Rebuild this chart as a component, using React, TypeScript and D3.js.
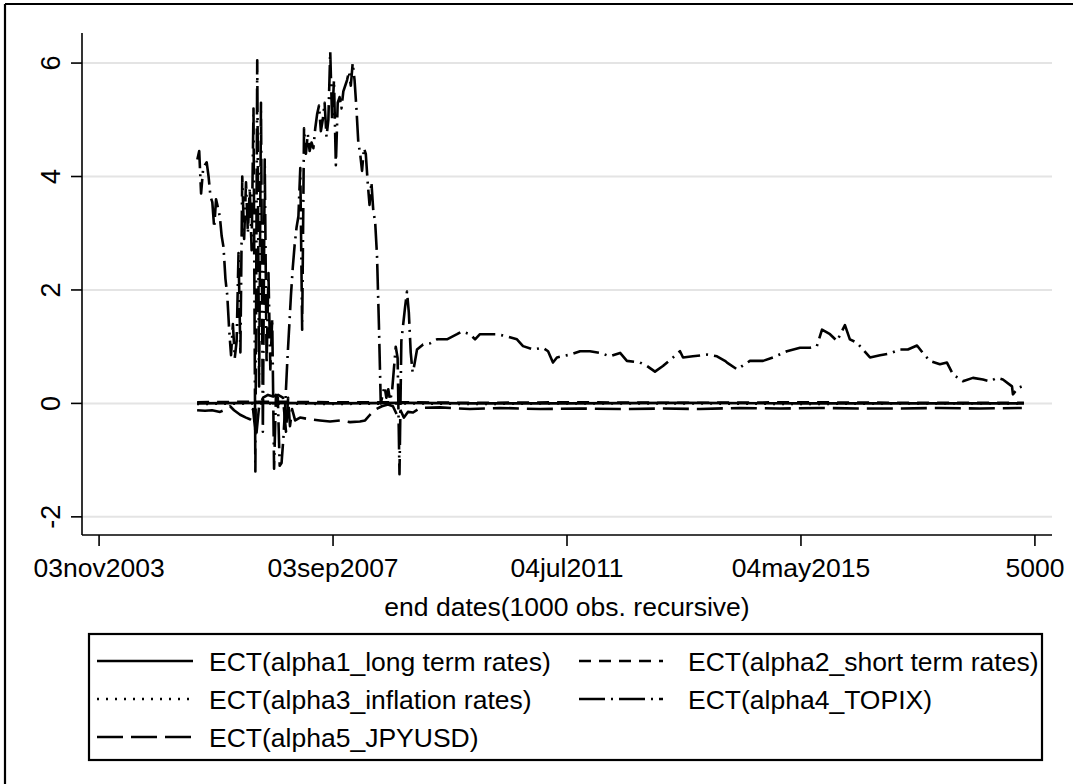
import React from "react";
import * as d3 from "d3";

// ---------- data ----------
const xTickObs = [1000, 2000, 3000, 4000, 5000];
const xTickLabels = ["03nov2003", "03sep2007", "04jul2011", "04may2015", "5000"];
const yTicks = [-2, 0, 2, 4, 6];

// alpha4 TOPIX: volatile part on a regular observation grid
const topixVolStart = 1420;
const topixVolStep = 8;
const topixVolatile = [
  4.3, 4.45, 3.7, 4.1, 4.2, 4.25, 4.0, 3.65, 3.55, 3.1,
  3.6, 3.45, 3.3, 2.95, 2.75, 2.2, 1.9, 1.3, 0.85, 1.4,
  0.8, 1.1, 2.65, 0.9, 4.0, 2.9, 3.9, 3.0, 3.8, 2.7,
  5.2, -1.2, 6.05, 0.3, 5.3, -0.5, 4.3, 0.7, 2.3, 0.6,
  1.5, -1.15, 0.15, 0.1, -1.1, -1.05, -0.6, 0.0, 0.7, 1.3,
  1.9, 2.4, 2.8, 3.1, 3.3, 4.15, 1.3, 4.85, 4.4, 4.75,
  4.45, 4.6, 4.5, 4.85, 5.1, 5.25, 4.8, 5.0, 5.3, 4.7,
  5.0, 6.2, 5.0, 5.7, 4.2, 5.3, 5.4, 5.2, 5.5, 5.6,
  5.7, 5.85, 5.6, 6.0, 5.7, 5.2, 4.6, 4.4, 4.1, 4.5,
  4.4, 3.9, 3.5, 3.9, 3.4, 3.2, 2.6, 1.4, 0.0, 0.15,
  0.3, 0.1, 0.25, 0.05, 0.2, 0.6, 1.0, 0.8, -1.25, 1.1,
  1.4, 1.7, 1.97, 1.6, 0.9, 0.55,
];
// alpha4 TOPIX: calmer part
const topixCalmObs = [
  2342, 2359, 2385, 2415, 2444, 2487, 2530, 2551, 2585, 2607,
  2628, 2658, 2701, 2744, 2786, 2812, 2855, 2897, 2919, 2940,
  2957, 3013, 3056, 3098, 3141, 3184, 3227, 3256, 3312, 3342,
  3376, 3410, 3453, 3483, 3496, 3538, 3598, 3641, 3675, 3684,
  3727, 3782, 3838, 3880, 3940, 3996, 4038, 4068, 4090, 4124,
  4154, 4188, 4209, 4239, 4265, 4295, 4338, 4380, 4423, 4457,
  4496, 4521, 4551, 4594, 4624, 4650, 4692, 4735, 4778, 4808,
  4838, 4863, 4902, 4906, 4927, 4944,
];
const topixCalmVal = [
  0.55, 0.95, 1.04, 1.06, 1.13, 1.13, 1.22, 1.27, 1.22, 1.13,
  1.22, 1.22, 1.22, 1.18, 1.13, 1.01, 0.95, 0.98, 0.92, 0.72,
  0.81, 0.86, 0.92, 0.92, 0.89, 0.83, 0.89, 0.75, 0.72, 0.66,
  0.56, 0.66, 0.81, 0.92, 0.81, 0.83, 0.86, 0.83, 0.75, 0.72,
  0.6, 0.75, 0.75, 0.81, 0.92, 0.98, 0.98, 1.01, 1.3, 1.22,
  1.1, 1.38, 1.13, 1.07, 0.95, 0.81, 0.85, 0.88, 0.95, 0.95,
  1.02, 0.89, 0.75, 0.69, 0.72, 0.51, 0.39, 0.45, 0.42, 0.39,
  0.45, 0.42, 0.3, 0.16, 0.27, 0.3,
];

// alpha5 JPYUSD
const jpyObs = [
  1419, 1453, 1483, 1517, 1543, 1560, 1577, 1603, 1628, 1645,
  1658, 1671, 1684, 1701, 1722, 1744, 1765, 1786, 1799, 1808,
  1816, 1825, 1838, 1859, 1902, 1944, 1987, 2030, 2073, 2115,
  2137, 2158, 2184, 2209, 2235, 2256, 2273, 2286, 2303, 2320,
  2342, 2372, 2457, 2585, 2714, 2885, 3056, 3227, 3397, 3568,
  3739, 3910, 4081, 4252, 4423, 4594, 4765, 4944,
];
const jpyVal = [
  -0.12, -0.13, -0.12, -0.15, -0.1, -0.05, -0.12, -0.2, -0.25, -0.28,
  -0.1, -0.6, -0.05, 0.1, 0.15, 0.12, 0.15, 0.1, -0.5, 0.1,
  -0.4, -0.1, -0.3, -0.25, -0.28, -0.3, -0.32, -0.3, -0.33, -0.32,
  -0.3, -0.2, -0.1, -0.05, -0.02, -0.05, -0.2, -0.1, -0.25, -0.15,
  -0.16, -0.08, -0.07, -0.1, -0.08, -0.1, -0.09, -0.1, -0.09, -0.1,
  -0.08, -0.09, -0.08, -0.09, -0.09, -0.08, -0.09, -0.08,
];

// alpha1, alpha2, alpha3 (close to zero)
const nearZeroObs = [1419, 1700, 2000, 2300, 2600, 3000, 3500, 4000, 4500, 4953];
const alpha1Val = [0.0, 0.01, 0.0, 0.01, 0.0, 0.0, 0.01, 0.0, 0.0, 0.0];
const alpha2Val = [0.02, 0.03, 0.02, 0.02, 0.01, 0.02, 0.01, 0.02, 0.01, 0.01];
const alpha3Val = [-0.01, 0.0, -0.01, 0.0, -0.01, 0.0, 0.0, -0.01, 0.0, 0.0];

const legendNames = [
  "ECT(alpha1_long term rates)",
  "ECT(alpha2_short term rates)",
  "ECT(alpha3_inflation rates)",
  "ECT(alpha4_TOPIX)",
  "ECT(alpha5_JPYUSD)",
];
const dashes = ["none", "12,8", "2,7", "26,6,2,6", "26,8"];

const FONT = "'Liberation Sans', Arial, Helvetica, sans-serif";

export default function App() {
  const W = 1073;
  const H = 784;
  const x = d3.scaleLinear().domain([927, 5073]).range([82, 1052]);
  const y = d3.scaleLinear().domain([-2.32, 6.53]).range([535, 33]);
  const line = d3
    .line<[number, number]>()
    .x((d) => x(d[0]))
    .y((d) => y(d[1]));

  const zip = (a: number[], b: number[]): [number, number][] =>
    a.map((v, i) => [v, b[i]] as [number, number]);

  const topixObsVol = topixVolatile.map((_, i) => topixVolStart + i * topixVolStep);
  const topix = zip(topixObsVol, topixVolatile).concat(zip(topixCalmObs, topixCalmVal));

  const series: [number, number][][] = [
    zip(nearZeroObs, alpha1Val),
    zip(nearZeroObs, alpha2Val),
    zip(nearZeroObs, alpha3Val),
    topix,
    zip(jpyObs, jpyVal),
  ];

  const [x0, x1] = x.range();
  const [yb, yt] = y.range();

  const legendRows = [661, 699, 737];
  const legendCols = [
    { s0: 97, s1: 193, t: 209 },
    { s0: 579, s1: 663, t: 688 },
  ];
  const FS = 26.5;

  return (
    <svg
      width={W}
      height={H}
      style={{ position: "absolute", left: 0, top: 0, background: "#fff" }}
      fontFamily={FONT}
    >
      <rect x={0} y={0} width={W} height={H} fill="#fff" />
      {/* outer frame (cropped: only top and left visible) */}
      <line x1={5} y1={4} x2={W} y2={4} stroke="#000" strokeWidth={2.2} />
      <line x1={5} y1={4} x2={5} y2={H} stroke="#000" strokeWidth={2.2} />

      {/* gridlines */}
      {yTicks.map((t) => (
        <line key={"g" + t} x1={x0} x2={x1} y1={y(t)} y2={y(t)} stroke="#e4e4e4" strokeWidth={2} />
      ))}

      {/* series */}
      {series.map((d, i) => (
        <path
          key={"s" + i}
          d={line(d) || ""}
          fill="none"
          stroke="#000"
          strokeWidth={2.6}
          strokeDasharray={dashes[i]}
          strokeLinejoin="round"
        />
      ))}

      {/* axes */}
      <line x1={x0} y1={yt} x2={x0} y2={yb} stroke="#000" strokeWidth={1.6} />
      <line x1={x0} y1={yb} x2={x1} y2={yb} stroke="#000" strokeWidth={1.6} />
      {yTicks.map((t) => (
        <g key={"yt" + t}>
          <line x1={x0 - 11} x2={x0} y1={y(t)} y2={y(t)} stroke="#000" strokeWidth={1.6} />
          <text
            transform={`translate(60,${y(t)}) rotate(-90)`}
            textAnchor="middle"
            fontSize={27}
            fill="#000"
          >
            {String(t)}
          </text>
        </g>
      ))}
      {xTickObs.map((t, i) => (
        <g key={"xt" + t}>
          <line x1={x(t)} x2={x(t)} y1={yb} y2={yb + 11} stroke="#000" strokeWidth={1.6} />
          <text x={x(t)} y={577} textAnchor="middle" fontSize={FS} fill="#000">
            {xTickLabels[i]}
          </text>
        </g>
      ))}
      <text x={(x0 + x1) / 2} y={616} textAnchor="middle" fontSize={FS} fill="#000">
        end dates(1000 obs. recursive)
      </text>

      {/* legend */}
      <rect x={89} y={634} width={953} height={126} fill="#fff" stroke="#000" strokeWidth={2.2} />
      {legendNames.map((name, i) => {
        const row = legendRows[Math.floor(i / 2)];
        const col = legendCols[i % 2];
        return (
          <g key={"lg" + i}>
            <line
              x1={col.s0}
              x2={col.s1}
              y1={row}
              y2={row}
              stroke="#000"
              strokeWidth={2.4}
              strokeDasharray={dashes[i]}
            />
            <text x={col.t} y={row + 10} fontSize={FS} fill="#000">
              {name}
            </text>
          </g>
        );
      })}
    </svg>
  );
}
